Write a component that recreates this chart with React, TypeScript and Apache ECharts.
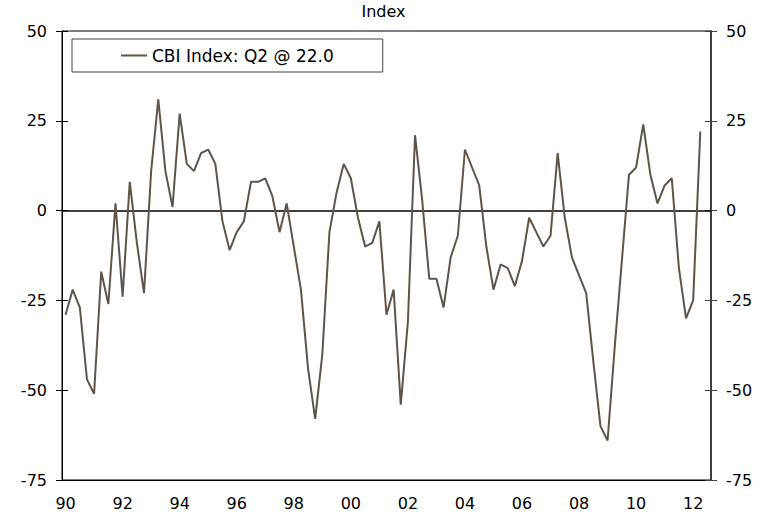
import React, { useEffect, useRef } from "react";
import * as echarts from "echarts";

const seriesName = "CBI Index: Q2 @ 22.0";
const titleText = "Index";

// Quarterly, 1990Q1 .. 2012Q2
const cbiValues = [
  -29, -22, -27, -47, -51, -17, -26, 2, -24, 8,
  -9, -23, 11, 31, 11, 1, 27, 13, 11, 16,
  17, 13, -3, -11, -6, -3, 8, 8, 9, 4,
  -6, 2, -10, -22, -44, -58, -40, -6, 5, 13,
  9, -2, -10, -9, -3, -29, -22, -54, -31, 21,
  3, -19, -19, -27, -13, -7, 17, 12, 7, -10,
  -22, -15, -16, -21, -14, -2, -6, -10, -7, 16,
  -2, -13, -18, -23, -42, -60, -64, -38, -14, 10,
  12, 24, 10, 2, 7, 9, -16, -30, -25, 22,
];

const years = [1990, 1991, 1992, 1993, 1994, 1995, 1996, 1997, 1998, 1999, 2000, 2001, 2002, 2003, 2004, 2005, 2006, 2007, 2008, 2009, 2010, 2011, 2012];
const quarters = ["Q1", "Q2", "Q3", "Q4"];
// categories run to 2012Q3 (one empty slot at the end)
const categories: string[] = [];
years.forEach((y) => quarters.forEach((q) => categories.push(`${y}${q}`)));
categories.splice(91);

const yTicks = [-75, -50, -25, 0, 25, 50];

const FONT = "'DejaVu Sans', Verdana, sans-serif";
const LINE_COLOR = "#5f544a";

export default function App() {
  const ref = useRef<HTMLDivElement>(null);
  useEffect(() => {
    if (!ref.current) return;
    const chart = echarts.init(ref.current, null, { renderer: "svg" });
    const every2y = (i: number) => i % 8 === 0;
    const yMin = yTicks[0];
    const yMax = yTicks[yTicks.length - 1];
    const yInt = yTicks[1] - yTicks[0];
    const baseY = {
      type: "value" as const,
      min: yMin,
      max: yMax,
      interval: yInt,
      splitLine: { show: false },
    };
    const baseX = {
      type: "category" as const,
      data: categories,
      boundaryGap: true,
      splitLine: { show: false },
    };
    chart.setOption({
      animation: false,
      backgroundColor: "#fff",
      title: {
        text: titleText,
        left: "center",
        top: 3,
        padding: 0,
        textStyle: { fontFamily: FONT, fontSize: 16, fontWeight: "normal", color: "#000" },
      },
      legend: {
        left: 72,
        top: 39,
        padding: [8, 49, 8, 49],
        borderColor: "#404040",
        borderWidth: 1,
        backgroundColor: "#fff",
        icon: "rect",
        itemWidth: 26,
        itemHeight: 2,
        textStyle: { fontFamily: FONT, fontSize: 17, color: "#000" },
        data: [seriesName],
      },
      grid: {
        left: 62,
        right: 56,
        top: 31,
        bottom: 34,
        show: true,
        borderColor: "#000",
        borderWidth: 1,
        backgroundColor: "transparent",
      },
      xAxis: [
        {
          ...baseX,
          position: "bottom",
          axisLine: { onZero: false, lineStyle: { color: "#000", width: 1 } },
          axisTick: { inside: false, length: 6, interval: every2y, lineStyle: { color: "#000" } },
          axisLabel: {
            interval: every2y,
            margin: 15,
            fontFamily: FONT,
            fontSize: 16,
            color: "#000",
            formatter: (v: string) => v.slice(2, 4),
          },
        },
        {
          ...baseX,
          position: "bottom",
          axisLine: { show: false, onZero: false },
          axisTick: { inside: true, length: 6, interval: every2y, lineStyle: { color: "#000" } },
          axisLabel: { show: false },
        },
      ],
      yAxis: [
        {
          ...baseY,
          position: "left",
          axisLine: { show: true, onZero: false, lineStyle: { color: "#000", width: 1 } },
          axisTick: { show: true, inside: false, length: 6, lineStyle: { color: "#000" } },
          axisLabel: { margin: 15, fontFamily: FONT, fontSize: 16, color: "#000" },
        },
        {
          ...baseY,
          position: "left",
          axisLine: { show: false, onZero: false },
          axisTick: { show: true, inside: true, length: 6, lineStyle: { color: "#000" } },
          axisLabel: { show: false },
        },
        {
          ...baseY,
          position: "right",
          axisLine: { show: true, onZero: false, lineStyle: { color: "#404040", width: 2 } },
          axisTick: { show: true, inside: false, length: 6, lineStyle: { color: "#404040" } },
          axisLabel: { margin: 15, fontFamily: FONT, fontSize: 16, color: "#000" },
        },
        {
          ...baseY,
          position: "right",
          axisLine: { show: false, onZero: false },
          axisTick: { show: true, inside: true, length: 6, lineStyle: { color: "#404040" } },
          axisLabel: { show: false },
        },
      ],
      series: [
        {
          name: seriesName,
          type: "line",
          xAxisIndex: 0,
          yAxisIndex: 0,
          data: cbiValues,
          symbol: "none",
          showSymbol: false,
          lineStyle: { color: LINE_COLOR, width: 2 },
          itemStyle: { color: LINE_COLOR },
          z: 3,
          markLine: {
            silent: true,
            symbol: "none",
            label: { show: false },
            lineStyle: { color: "#000", width: 1.5, type: "solid" },
            data: [{ yAxis: 0 }],
            z: 2,
          },
        },
      ],
    });
    return () => chart.dispose();
  }, []);
  return <div ref={ref} style={{ width: 767, height: 514, position: "absolute", left: 0, top: 0 }} />;
}
